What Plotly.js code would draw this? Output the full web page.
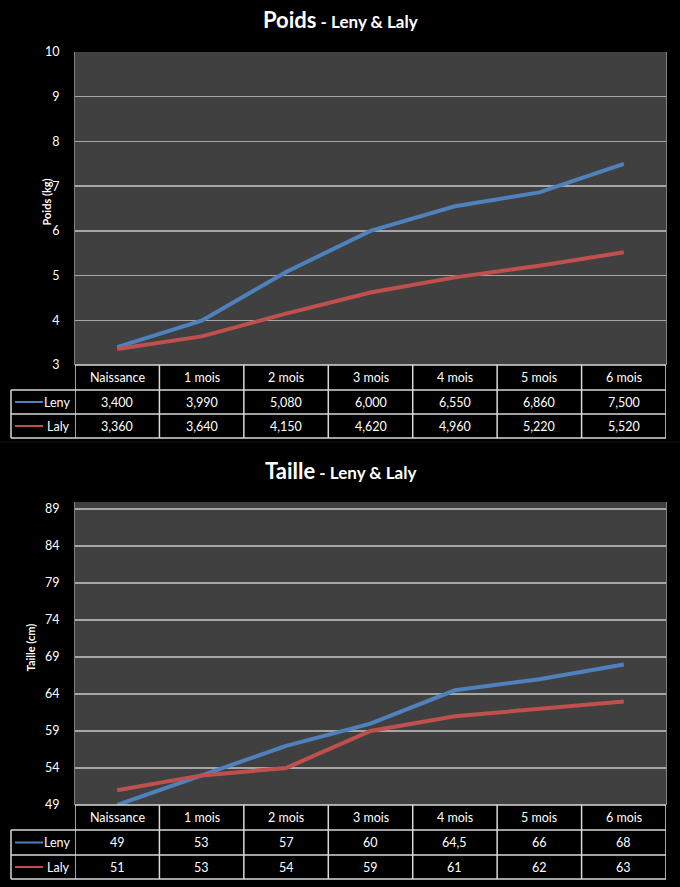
<!DOCTYPE html>
<html>
<head>
<meta charset="utf-8">
<script src="https://cdn.plot.ly/plotly-3.0.1.min.js"></script>
<style>
  html, body { margin: 0; padding: 0; background: #000; }
  #chart { width: 680px; height: 887px; }
</style>
</head>
<body>
<div id="chart"></div>
<script>
// Growth data for Leny & Laly (first six months)
const categories = ['Naissance', '1 mois', '2 mois', '3 mois', '4 mois', '5 mois', '6 mois'];
const seriesNames = ['Leny', 'Laly'];

const poidsLeny = [3.400, 3.990, 5.080, 6.000, 6.550, 6.860, 7.500];
const poidsLaly = [3.360, 3.640, 4.150, 4.620, 4.960, 5.220, 5.520];

const tailleLeny = [49, 53, 57, 60, 64.5, 66, 68];
const tailleLaly = [51, 53, 54, 59, 61, 62, 63];

const poidsTicks = [3, 4, 5, 6, 7, 8, 9, 10];
const tailleTicks = [49, 54, 59, 64, 69, 74, 79, 84, 89];

// Styling
const W = 680, H = 887;
const FONT = 'Lato, "Open Sans", sans-serif';
const BLUE = '#4f81bd';
const RED = '#c0504d';
const GRID = '#a6a6a6';
const CELL_LINE = '#d9d9d9';
const TXT = 12.5;

// pixel (from top) -> paper fraction
const py = p => 1 - p / H;
const px = p => p / W;

// Number formats used in the data tables (French decimal comma)
const fmtPoids = v => v.toFixed(3).replace('.', ',');
const fmtTaille = v => String(v).replace('.', ',');

const plotLeft = 75, plotRight = 666, tableLeft = 11;

const charts = [
  {
    xa: 'x', ya: 'y', top: 52, bottom: 365,
    rows: [365, 390, 414, 438],
    title: 'Poids', ytitle: 'Poids (kg)', ytitleX: 46, titleY: 20,
    series: [poidsLeny, poidsLaly], fmt: fmtPoids,
    range: [3, 10], ticks: poidsTicks
  },
  {
    xa: 'x2', ya: 'y2', top: 502, bottom: 805,
    rows: [805, 830, 855, 879],
    title: 'Taille', ytitle: 'Taille (cm)', ytitleX: 30, titleY: 470,
    series: [tailleLeny, tailleLaly], fmt: fmtTaille,
    range: [49, 89.95], ticks: tailleTicks
  }
];
const colors = [BLUE, RED];

const traces = [];
const shapes = [];
const annotations = [];
const layout = {
  width: W, height: H,
  paper_bgcolor: '#000000',
  plot_bgcolor: '#404040',
  margin: { l: 0, r: 0, t: 0, b: 0 },
  showlegend: false,
  font: { family: FONT, color: '#ffffff', size: TXT }
};

charts.forEach((c, ci) => {
  const xKey = ci === 0 ? 'xaxis' : 'xaxis2';
  const yKey = ci === 0 ? 'yaxis' : 'yaxis2';

  layout[xKey] = {
    domain: [px(plotLeft), px(plotRight)],
    anchor: c.ya,
    type: 'category',
    categoryarray: categories,
    range: [-0.5, categories.length - 0.5],
    showticklabels: false, showgrid: false, zeroline: false,
    showline: false, ticks: '', fixedrange: true
  };
  layout[yKey] = {
    domain: [py(c.bottom), py(c.top)],
    anchor: c.xa,
    range: c.range,
    tickvals: c.ticks,
    ticktext: c.ticks.map(String),
    showgrid: true, gridcolor: GRID, gridwidth: 1.5,
    zeroline: false,
    showline: true, linecolor: '#808080', linewidth: 1, mirror: true,
    ticks: '', ticklabelstandoff: 12,
    tickfont: { family: FONT, size: TXT, color: '#ffffff' },
    fixedrange: true
  };

  // Data lines
  c.series.forEach((vals, si) => {
    traces.push({
      type: 'scatter', mode: 'lines',
      x: categories, y: vals,
      xaxis: c.xa, yaxis: c.ya,
      name: seriesNames[si],
      line: { color: colors[si], width: 4 },
      hoverinfo: 'skip'
    });
  });

  // Chart title
  annotations.push({
    xref: 'paper', yref: 'paper', x: 0.5, y: py(c.titleY),
    xanchor: 'center', yanchor: 'middle', showarrow: false,
    text: '<b><span style="font-size:22px">' + c.title + '</span>' +
          '<span style="font-size:17px"> - Leny &amp; Laly</span></b>',
    font: { family: FONT, color: '#ffffff', size: 17 }
  });

  // Vertical axis title
  annotations.push({
    xref: 'paper', yref: 'paper', x: px(c.ytitleX), y: py((c.top + c.bottom) / 2 - 6),
    xanchor: 'center', yanchor: 'middle', showarrow: false, textangle: -90,
    text: '<b>' + c.ytitle + '</b>',
    font: { family: FONT, color: '#ffffff', size: 11 }
  });

  // Data table under the plot
  const r = c.rows;
  const lineStyle = { color: CELL_LINE, width: 1.5 };
  // horizontal rules
  shapes.push({ type: 'line', xref: 'paper', yref: 'paper', x0: px(plotLeft), x1: px(plotRight), y0: py(r[0]), y1: py(r[0]), line: lineStyle });
  for (let k = 1; k < r.length; k++) {
    shapes.push({ type: 'line', xref: 'paper', yref: 'paper', x0: px(tableLeft), x1: px(plotRight), y0: py(r[k]), y1: py(r[k]), line: lineStyle });
  }
  // vertical rules between categories
  for (let k = 0; k <= categories.length; k++) {
    shapes.push({ type: 'line', xref: c.xa, yref: 'paper', x0: k - 0.5, x1: k - 0.5, y0: py(r[0]), y1: py(r[3]), line: lineStyle });
  }
  shapes.push({ type: 'line', xref: 'paper', yref: 'paper', x0: px(tableLeft), x1: px(tableLeft), y0: py(r[1]), y1: py(r[3]), line: lineStyle });

  // header row
  categories.forEach((cat, i) => {
    annotations.push({
      xref: c.xa, yref: 'paper', x: i, y: py((r[0] + r[1]) / 2),
      xanchor: 'center', yanchor: 'middle', showarrow: false,
      text: cat, font: { family: FONT, size: TXT, color: '#ffffff' }
    });
  });
  // series rows
  c.series.forEach((vals, si) => {
    const yc = py((r[si + 1] + r[si + 2]) / 2);
    shapes.push({ type: 'line', xref: 'paper', yref: 'paper', x0: px(15), x1: px(43), y0: yc, y1: yc, line: { color: colors[si], width: 2 } });
    annotations.push({
      xref: 'paper', yref: 'paper', x: px(72), y: yc,
      xanchor: 'right', yanchor: 'middle', showarrow: false,
      text: seriesNames[si], font: { family: FONT, size: TXT, color: '#ffffff' }
    });
    vals.forEach((v, i) => {
      annotations.push({
        xref: c.xa, yref: 'paper', x: i, y: yc,
        xanchor: 'center', yanchor: 'middle', showarrow: false,
        text: c.fmt(v), font: { family: FONT, size: TXT, color: '#ffffff' }
      });
    });
  });
});

// faint divider between the two charts
shapes.push({ type: 'line', xref: 'paper', yref: 'paper', x0: 0, x1: 1, y0: py(442), y1: py(442), line: { color: '#141414', width: 1 } });

layout.shapes = shapes;
layout.annotations = annotations;

Plotly.newPlot('chart', traces, layout, { staticPlot: true, displayModeBar: false });
</script>
</body>
</html>
